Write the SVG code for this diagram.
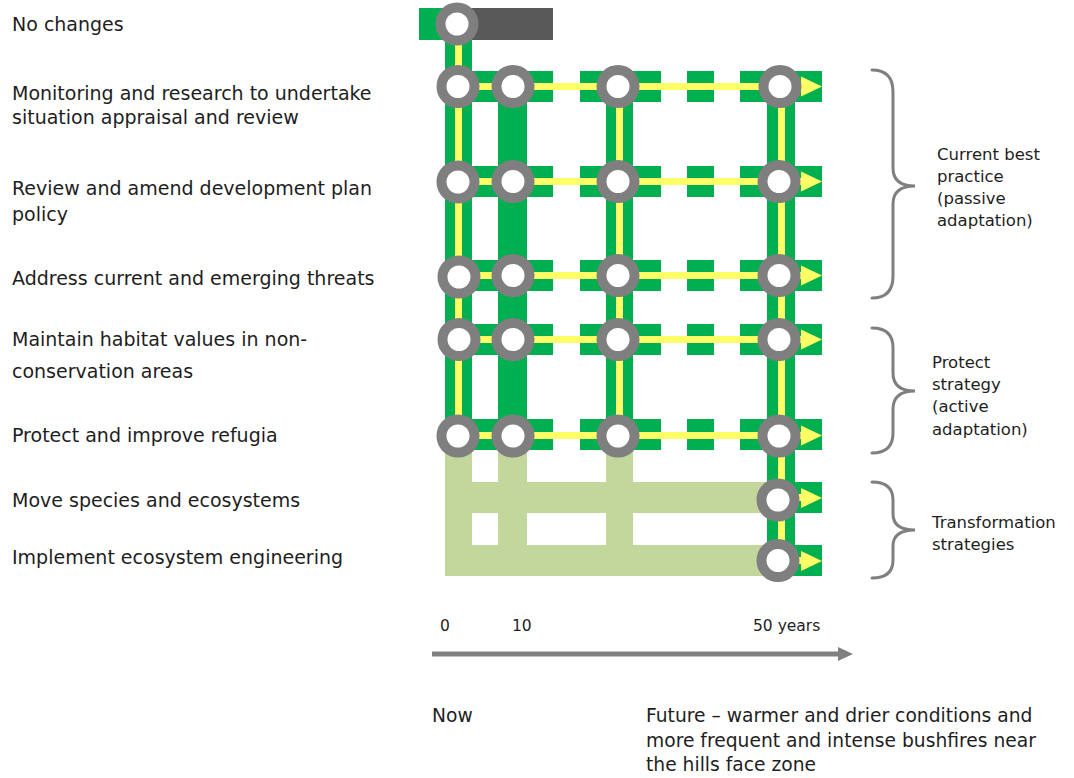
<svg xmlns="http://www.w3.org/2000/svg" width="1074" height="778" viewBox="0 0 1074 778">
<style>
  .lbl{font-family:"DejaVu Sans","Liberation Sans",sans-serif;font-size:19px;fill:#1e1e1e}
  .grp{font-family:"DejaVu Sans","Liberation Sans",sans-serif;font-size:16.5px;fill:#1e1e1e}
  .ax{font-family:"DejaVu Sans","Liberation Sans",sans-serif;font-size:15.5px;fill:#1e1e1e}
  .bot{font-family:"DejaVu Sans","Liberation Sans",sans-serif;font-size:18.7px;fill:#1e1e1e}
  .g{fill:#00B050}
  .lg{fill:#C3D69B}
  .y{fill:#FFFF66}
  .node{fill:#FFFFFF;stroke:#7F7F7F;stroke-width:10}
  .brace{fill:none;stroke:#7F7F7F;stroke-width:3;stroke-linecap:round}
</style>
<defs>
  <polygon id="ah" points="0,-10 21,0 0,10" fill="#FFFF66"/>
</defs>
<rect width="1074" height="778" fill="#FFFFFF"/>

<!-- left labels -->
<g id="labels">
  <text class="lbl" x="12" y="31">No changes</text>
  <text class="lbl" x="12" y="100">Monitoring and research to undertake</text>
  <text class="lbl" x="12" y="124">situation appraisal and review</text>
  <text class="lbl" x="12" y="195">Review and amend development plan</text>
  <text class="lbl" x="12" y="221">policy</text>
  <text class="lbl" x="12" y="285">Address current and emerging threats</text>
  <text class="lbl" x="12" y="346">Maintain habitat values in non-</text>
  <text class="lbl" x="12" y="378">conservation areas</text>
  <text class="lbl" x="12" y="442">Protect and improve refugia</text>
  <text class="lbl" x="12" y="507">Move species and ecosystems</text>
  <text class="lbl" x="12" y="564">Implement ecosystem engineering</text>
</g>

<!-- connectors / tracks -->
<g id="connectors">
  <!-- light green (transformation) tracks -->
  <rect class="lg" x="445" y="451" width="27" height="125"/>
  <rect class="lg" x="498" y="451" width="29" height="125"/>
  <rect class="lg" x="606" y="451" width="27" height="125"/>
  <rect class="lg" x="445" y="482" width="325" height="31"/>
  <rect class="lg" x="445" y="545" width="325" height="31"/>

  <!-- row 0 -->
  <rect class="g" x="419" y="8" width="40" height="32"/>
  <rect x="457" y="8" width="96" height="32" fill="#595959"/>

  <!-- green verticals -->
  <rect class="g" x="445" y="24" width="27" height="427"/>
  <rect class="g" x="498" y="71" width="29" height="380"/>
  <rect class="g" x="606" y="71" width="27" height="380"/>
  <rect class="g" x="767" y="71" width="28" height="505"/>

  <!-- green horizontal dashed bars rows 1-5 -->
  <g id="row1-bars">
    <rect class="g" x="445" y="71" width="108" height="31"/>
    <rect class="g" x="580" y="71" width="81" height="31"/>
    <rect class="g" x="687" y="71" width="27" height="31"/>
    <rect class="g" x="740" y="71" width="82" height="31"/>
  </g>
  <g id="row2-bars">
    <rect class="g" x="445" y="166" width="108" height="31"/>
    <rect class="g" x="580" y="166" width="81" height="31"/>
    <rect class="g" x="687" y="166" width="27" height="31"/>
    <rect class="g" x="740" y="166" width="82" height="31"/>
  </g>
  <g id="row3-bars">
    <rect class="g" x="445" y="260" width="108" height="31"/>
    <rect class="g" x="580" y="260" width="81" height="31"/>
    <rect class="g" x="687" y="260" width="27" height="31"/>
    <rect class="g" x="740" y="260" width="82" height="31"/>
  </g>
  <g id="row4-bars">
    <rect class="g" x="445" y="324" width="108" height="31"/>
    <rect class="g" x="580" y="324" width="81" height="31"/>
    <rect class="g" x="687" y="324" width="27" height="31"/>
    <rect class="g" x="740" y="324" width="82" height="31"/>
  </g>
  <g id="row5-bars">
    <rect class="g" x="445" y="419" width="108" height="31"/>
    <rect class="g" x="580" y="419" width="81" height="31"/>
    <rect class="g" x="687" y="419" width="27" height="31"/>
    <rect class="g" x="740" y="419" width="82" height="31"/>
  </g>
  <rect class="g" x="767" y="482" width="55" height="31"/>
  <rect class="g" x="767" y="545" width="55" height="31"/>

  <!-- yellow paths -->
  <rect class="y" x="455" y="24" width="7" height="412"/>
  <rect class="y" x="616" y="87" width="7" height="349"/>
  <rect class="y" x="778" y="87" width="7" height="474"/>
  <rect class="y" x="458" y="83" width="345" height="7"/>
  <rect class="y" x="458" y="178" width="345" height="7"/>
  <rect class="y" x="458" y="272" width="345" height="7"/>
  <rect class="y" x="458" y="336" width="345" height="7"/>
  <rect class="y" x="458" y="432" width="345" height="7"/>
  <rect class="y" x="780" y="494" width="23" height="7"/>
  <rect class="y" x="780" y="557" width="23" height="7"/>
  <use href="#ah" x="801" y="86.5"/>
  <use href="#ah" x="801" y="181.5"/>
  <use href="#ah" x="801" y="275.5"/>
  <use href="#ah" x="801" y="339.5"/>
  <use href="#ah" x="801" y="435.5"/>
  <use href="#ah" x="801" y="498"/>
  <use href="#ah" x="801" y="561"/>
</g>

<!-- nodes -->
<g id="n-r0-c0"><circle class="node" cx="457" cy="24" r="16.5"/></g>
<g id="n-r1-c0"><circle class="node" cx="458" cy="86.5" r="16.5"/></g>
<g id="n-r1-c1"><circle class="node" cx="513" cy="86.5" r="16.5"/></g>
<g id="n-r1-c2"><circle class="node" cx="618" cy="86.5" r="16.5"/></g>
<g id="n-r1-c3"><circle class="node" cx="780" cy="86.5" r="16.5"/></g>
<g id="n-r2-c0"><circle class="node" cx="458" cy="182" r="16.5"/></g>
<g id="n-r2-c1"><circle class="node" cx="513" cy="181.5" r="16.5"/></g>
<g id="n-r2-c2"><circle class="node" cx="618" cy="181.5" r="16.5"/></g>
<g id="n-r2-c3"><circle class="node" cx="779" cy="181.5" r="16.5"/></g>
<g id="n-r3-c0"><circle class="node" cx="459" cy="277" r="16.5"/></g>
<g id="n-r3-c1"><circle class="node" cx="513" cy="275.5" r="16.5"/></g>
<g id="n-r3-c2"><circle class="node" cx="618" cy="275.5" r="16.5"/></g>
<g id="n-r3-c3"><circle class="node" cx="779" cy="275.5" r="16.5"/></g>
<g id="n-r4-c0"><circle class="node" cx="459" cy="339.5" r="16.5"/></g>
<g id="n-r4-c1"><circle class="node" cx="513" cy="339.5" r="16.5"/></g>
<g id="n-r4-c2"><circle class="node" cx="618" cy="339.5" r="16.5"/></g>
<g id="n-r4-c3"><circle class="node" cx="779" cy="339.5" r="16.5"/></g>
<g id="n-r5-c0"><circle class="node" cx="458" cy="436" r="16.5"/></g>
<g id="n-r5-c1"><circle class="node" cx="513" cy="436" r="16.5"/></g>
<g id="n-r5-c2"><circle class="node" cx="618" cy="436" r="16.5"/></g>
<g id="n-r5-c3"><circle class="node" cx="779" cy="436" r="16.5"/></g>
<g id="n-r6-c3"><circle class="node" cx="778" cy="500" r="16.5"/></g>
<g id="n-r7-c3"><circle class="node" cx="778" cy="560.5" r="16.5"/></g>

<!-- braces and group labels -->
<g id="grp-current">
  <path class="brace" d="M872,70 Q893,70 893,92 L893,168 Q893,186 915,186 Q893,186 893,204 L893,276 Q893,298 872,298"/>
  <text class="grp" x="937" y="160">Current best</text>
  <text class="grp" x="937" y="182">practice</text>
  <text class="grp" x="937" y="204">(passive</text>
  <text class="grp" x="937" y="226">adaptation)</text>
</g>
<g id="grp-protect">
  <path class="brace" d="M872,328 Q893,328 893,348 L893,373 Q893,391 915,391 Q893,391 893,409 L893,433 Q893,453 872,453"/>
  <text class="grp" x="932" y="368">Protect</text>
  <text class="grp" x="932" y="390">strategy</text>
  <text class="grp" x="932" y="412">(active</text>
  <text class="grp" x="932" y="435">adaptation)</text>
</g>
<g id="grp-transform">
  <path class="brace" d="M872,482 Q893,482 893,500 L893,514 Q893,530 915,530 Q893,530 893,546 L893,560 Q893,578 872,578"/>
  <text class="grp" x="932" y="528">Transformation</text>
  <text class="grp" x="932" y="550">strategies</text>
</g>

<!-- time axis -->
<g id="axis">
  <text class="ax" x="440" y="631">0</text>
  <text class="ax" x="512" y="631">10</text>
  <text class="ax" x="753" y="631">50 years</text>
  <rect x="432" y="651.5" width="408" height="5" fill="#808080"/>
  <polygon points="838,647 853,654 838,661" fill="#808080"/>
</g>

<g id="bottom-text">
  <text class="bot" x="432" y="722">Now</text>
  <text class="bot" x="646" y="722">Future – warmer and drier conditions and</text>
  <text class="bot" x="646" y="747">more frequent and intense bushfires near</text>
  <text class="bot" x="646" y="771">the hills face zone</text>
</g>
</svg>
